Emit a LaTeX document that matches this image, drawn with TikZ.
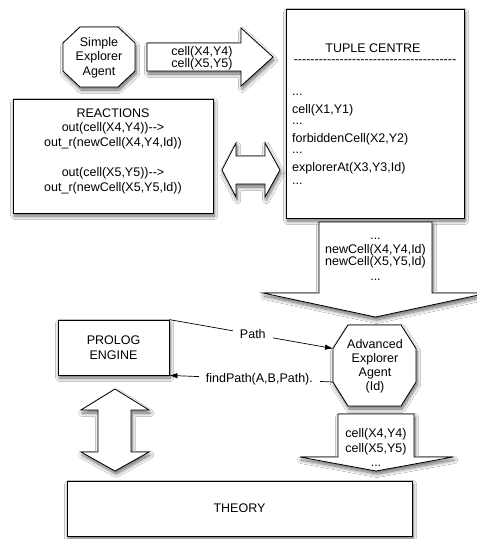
\documentclass[tikz,border=0pt]{standalone}
\usepackage{fontspec}
\setmainfont{Liberation Sans}[Ligatures=TeXOff]
\usetikzlibrary{arrows.meta,shadows.blur}

\tikzset{
  softshadow/.style={blur shadow={shadow xshift=1.2pt, shadow yshift=-3pt,
      shadow blur radius=3.5pt, shadow blur steps=10, shadow opacity=60}},
  blockshape/.style={draw=black, line width=0.8pt, fill=white, softshadow, line join=miter},
  box/.style={blockshape, inner sep=0pt, align=center},
  txt/.style={inner sep=0pt, align=center},
  link/.style={draw=black, line width=0.7pt, -{Latex[length=8pt,width=5.5pt]}},
  tag/.style={fill=white, inner xsep=7pt, inner ysep=2pt},
}

\begin{document}
\begin{tikzpicture}[x=1pt, y=-1pt, font=\fontsize{12.5}{14.5}\selectfont]
\useasboundingbox[fill=white] (0,0) rectangle (477,539);

% simple explorer agent
\path[blockshape] (80,27) -- (118,27) -- (135,43) -- (135,71) -- (118,87)
  -- (80,87) -- (63,71) -- (63,43) -- cycle;
\node[txt] (simple) at (99,57.5) {Simple\\Explorer\\Agent};

% block arrow carrying the cells
\path[blockshape] (147,43) -- (241,43) -- (241,28) -- (273,57) -- (241,86)
  -- (241,71) -- (147,71) -- cycle;
\node[txt, font=\fontsize{12.5}{12}\selectfont] (cells) at (202,58)
  {cell(X4,Y4)\\cell(X5,Y5)};

% tuple centre
\node[box, minimum width=178pt, minimum height=209pt] (tuple) at (375,113.5) {};
\node[txt] (tctitle) at (373,48) {TUPLE CENTRE};
\node[txt] (tcrule) at (375,62) {---------------------------------------};
\node[txt, anchor=base west] (tc1) at (292,95) {...};
\node[txt, anchor=base west] (tc2) at (292,113.3) {cell(X1,Y1)};
\node[txt, anchor=base west] (tc3) at (292,124) {...};
\node[txt, anchor=base west] (tc4) at (292,142.5) {forbiddenCell(X2,Y2)};
\node[txt, anchor=base west] (tc5) at (292,153) {...};
\node[txt, anchor=base west] (tc6) at (292,171.5) {explorerAt(X3,Y3,Id)};
\node[txt, anchor=base west] (tc7) at (292,184) {...};

% reactions
\node[box, minimum width=200pt, minimum height=114pt] (reactions) at (113,156) {};
\node[txt, font=\fontsize{12.5}{14.8}\selectfont] (reacttext) at (113,151)
  {REACTIONS\\out(cell(X4,Y4))-->\\out\textunderscore r(newCell(X4,Y4,Id))\\[14.8pt]
   out(cell(X5,Y5))-->\\out\textunderscore r(newCell(X5,Y5,Id))};

% two-way arrow between reactions and tuple centre
\path[blockshape] (222,170) -- (236,143) -- (236,156) -- (265,156) -- (265,143)
  -- (280,170) -- (265,197) -- (265,184) -- (236,184) -- (236,197) -- cycle;

% big arrow out of the tuple centre
\path[blockshape] (319,222) -- (432,222) -- (432,293) -- (488,293) -- (375.5,317)
  -- (263,293) -- (319,293) -- cycle;
\node[txt, anchor=base] (nc0) at (375.5,239) {...};
\node[txt, anchor=base] (nc1) at (375.5,253.5) {newCell(X4,Y4,Id)};
\node[txt, anchor=base] (nc2) at (375.5,265.5) {newCell(X5,Y5,Id)};
\node[txt, anchor=base] (nc3) at (375.5,280.5) {...};

% prolog engine
\node[box, minimum width=111pt, minimum height=55pt] (prolog) at (113.5,347.5)
  {PROLOG\\ENGINE};

% advanced explorer agent
\path[blockshape] (348,325) -- (401,325) -- (416,348.5) -- (416,382) -- (401,406)
  -- (348,406) -- (333,382) -- (333,348.5) -- cycle;
\coordinate (advUL) at (333,348.5);
\coordinate (advLL) at (333,382);
\node[txt, font=\fontsize{12.5}{14}\selectfont] (advanced) at (375,366)
  {Advanced\\Explorer\\Agent\\(Id)};

% messages between the agent and the engine
\draw[link] (prolog.north east) -- node[tag, pos=0.51] (pathlabel) {Path} (advUL);
\draw[link] (advLL) -- node[tag, pos=0.45] (findlabel) {findPath(A,B,Path).}
  (prolog.south east);

% two-way arrow between engine and theory
\path[blockshape] (115,389) -- (149,410) -- (131,410) -- (131,452) -- (149,452)
  -- (115,471) -- (81,452) -- (98,452) -- (98,410) -- (81,410) -- cycle;

% arrow out of the advanced agent
\path[blockshape] (338,414) -- (414,414) -- (414,457) -- (453,457) -- (376,471)
  -- (300,457) -- (338,457) -- cycle;
\node[txt, anchor=base] (ca1) at (376,437.8) {cell(X4,Y4)};
\node[txt, anchor=base] (ca2) at (376,452.8) {cell(X5,Y5)};
\node[txt, anchor=base] (ca3) at (376,466) {...};

% theory
\node[box, minimum width=345pt, minimum height=55pt] (theory) at (239.5,508.5) {THEORY};
\end{tikzpicture}
\end{document}
